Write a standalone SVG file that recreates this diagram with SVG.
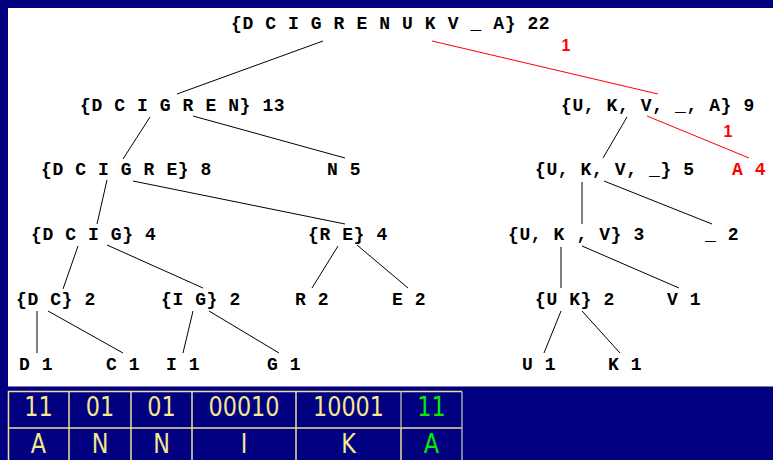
<svg xmlns="http://www.w3.org/2000/svg" width="773" height="460" viewBox="0 0 773 460">
<style>
.t{font-family:"Liberation Mono","Courier New",monospace;font-weight:bold;font-size:18px;letter-spacing:0.6px;fill:#000}
.r{fill:#ff0000}
.el{font-family:"Liberation Sans",Arial,sans-serif;font-weight:bold;font-size:16px;fill:#ff0000;text-anchor:middle}
.e line{stroke:#000;stroke-width:1}
.e .red{stroke:#ff0000}
.tb{font-family:"DejaVu Sans",Verdana,sans-serif;font-size:26px;fill:#f5e68f;text-anchor:middle}
.g{fill:#00ee00}
.grid{stroke:#eedd99;stroke-width:1.5;fill:none}
</style>
<rect x="0" y="0" width="773" height="460" fill="#000080"/>
<rect x="8" y="8" width="765" height="378" fill="#ffffff"/>
<line x1="8" y1="386.5" x2="773" y2="386.5" stroke="#7777bb" stroke-width="1"/>

<g id="connectors" class="e">
<line x1="323" y1="41" x2="177" y2="94"/>
<line class="red" x1="432" y1="41" x2="658" y2="94"/>
<line x1="150" y1="117" x2="123" y2="159"/>
<line x1="193" y1="116" x2="345" y2="158"/>
<line x1="627" y1="117" x2="603" y2="158"/>
<line class="red" x1="647" y1="116" x2="749" y2="158"/>
<line x1="107" y1="180" x2="97" y2="224"/>
<line x1="133" y1="181" x2="345" y2="224"/>
<line x1="582" y1="182" x2="582" y2="224"/>
<line x1="604" y1="181" x2="712" y2="224"/>
<line x1="78" y1="246" x2="63" y2="289"/>
<line x1="107" y1="245" x2="203" y2="288"/>
<line x1="338" y1="246" x2="312" y2="288"/>
<line x1="357" y1="245" x2="408" y2="288"/>
<line x1="561" y1="247" x2="561" y2="288"/>
<line x1="582" y1="246" x2="679" y2="288"/>
<line x1="37" y1="311" x2="37" y2="353"/>
<line x1="48" y1="311" x2="123" y2="353"/>
<line x1="193" y1="311" x2="183" y2="353"/>
<line x1="209" y1="311" x2="279" y2="353"/>
<line x1="561" y1="311" x2="544" y2="353"/>
<line x1="582" y1="311" x2="620" y2="353"/>
<text class="el" x="566" y="51">1</text>
<text class="el" x="728" y="137">1</text>
</g>

<g id="n-root"><text class="t" x="231" y="29">{D C I G R E N U K V _ A} 22</text></g>
<g id="n-dcigren"><text class="t" x="80" y="111">{D C I G R E N} 13</text></g>
<g id="n-ukv_a"><text class="t" x="561" y="111">{U, K, V, _, A} 9</text></g>
<g id="n-dcigre"><text class="t" x="41" y="175">{D C I G R E} 8</text></g>
<g id="n-n"><text class="t" x="327" y="175">N 5</text></g>
<g id="n-ukv_"><text class="t" x="535" y="175">{U, K, V, _} 5</text></g>
<g id="n-a"><text class="t r" x="732" y="175">A 4</text></g>
<g id="n-dcig"><text class="t" x="31" y="240">{D C I G} 4</text></g>
<g id="n-re"><text class="t" x="308" y="240">{R E} 4</text></g>
<g id="n-ukv"><text class="t" x="508" y="240">{U, K , V} 3</text></g>
<g id="n-us"><text class="t" x="705" y="240">_ 2</text></g>
<g id="n-dc"><text class="t" x="16" y="305">{D C} 2</text></g>
<g id="n-ig"><text class="t" x="161" y="305">{I G} 2</text></g>
<g id="n-r"><text class="t" x="295" y="305">R 2</text></g>
<g id="n-e"><text class="t" x="392" y="305">E 2</text></g>
<g id="n-uk"><text class="t" x="535" y="305">{U K} 2</text></g>
<g id="n-v"><text class="t" x="667" y="305">V 1</text></g>
<g id="n-d"><text class="t" x="19" y="370">D 1</text></g>
<g id="n-c"><text class="t" x="106" y="370">C 1</text></g>
<g id="n-i"><text class="t" x="166" y="370">I 1</text></g>
<g id="n-g"><text class="t" x="267" y="370">G 1</text></g>
<g id="n-u"><text class="t" x="522" y="370">U 1</text></g>
<g id="n-k"><text class="t" x="608" y="370">K 1</text></g>

<g id="table">
<path class="grid" d="M8.5 461 V391.5 H462 M8.5 428 H462 M69 391.5 V461 M131 391.5 V461 M192 391.5 V461 M296 391.5 V461"/>
<path d="M401 391.5 V428 M462 391.5 V461" stroke="#a8a8a8" stroke-width="1.5" fill="none"/>
<line x1="401" y1="428" x2="401" y2="461" stroke="#eedd99" stroke-width="1.5"/>
<text class="tb" transform="translate(38.5 416) scale(0.86 1)">11</text>
<text class="tb" transform="translate(100 416) scale(0.86 1)">01</text>
<text class="tb" transform="translate(161.5 416) scale(0.86 1)">01</text>
<text class="tb" transform="translate(244 416) scale(0.86 1)">00010</text>
<text class="tb" transform="translate(348.5 416) scale(0.86 1)">10001</text>
<text class="tb g" transform="translate(431.5 416) scale(0.86 1)">11</text>
<text class="tb" transform="translate(38.5 453) scale(0.86 1)">A</text>
<text class="tb" transform="translate(100 453) scale(0.86 1)">N</text>
<text class="tb" transform="translate(161.5 453) scale(0.86 1)">N</text>
<text class="tb" transform="translate(244 453) scale(0.86 1)">I</text>
<text class="tb" transform="translate(348.5 453) scale(0.86 1)">K</text>
<text class="tb g" transform="translate(431.5 453) scale(0.86 1)">A</text>
</g>
</svg>
